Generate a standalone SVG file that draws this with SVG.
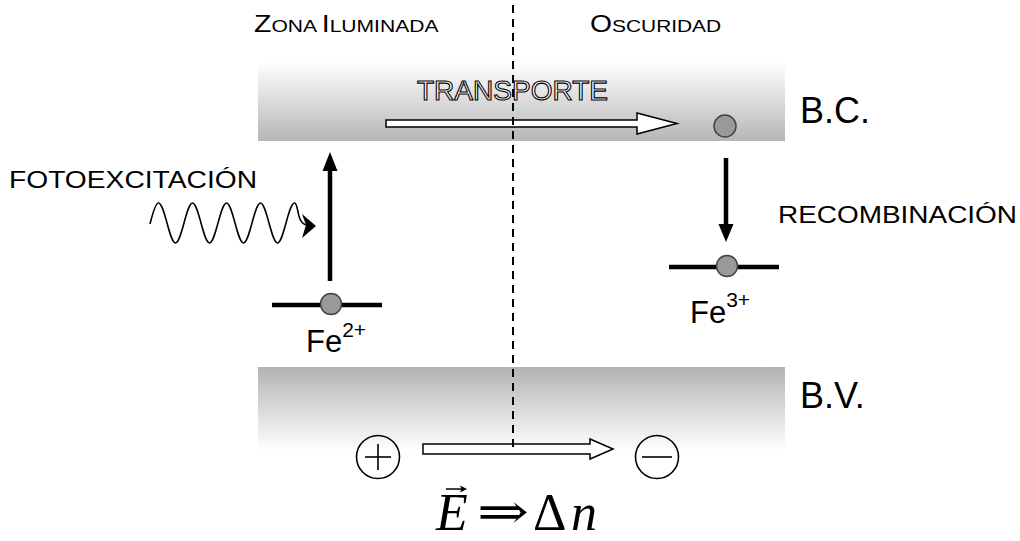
<svg xmlns="http://www.w3.org/2000/svg" width="1020" height="541" viewBox="0 0 1020 541">
  <defs>
    <linearGradient id="gBC" x1="0" y1="0" x2="0" y2="1">
      <stop offset="0" stop-color="#ffffff"/>
      <stop offset="1" stop-color="#b6b6b6"/>
    </linearGradient>
    <linearGradient id="gBV" x1="0" y1="0" x2="0" y2="1">
      <stop offset="0" stop-color="#b3b3b3"/>
      <stop offset="1" stop-color="#ffffff"/>
    </linearGradient>
    <style>
      .sans{font-family:"Liberation Sans",Arial,sans-serif;fill:#000}
      .lvl{stroke:#000;stroke-width:4.5;fill:none}
      .elec{fill:#999999;stroke:#444;stroke-width:1.5}
      .vert{stroke:#000;stroke-width:4.5;fill:none}
      .hollow{fill:#fff;stroke:#000;stroke-width:1.5;stroke-linejoin:miter}
      .sign{fill:none;stroke:#000;stroke-width:1.6}
      .serif{font-family:"Liberation Serif","Times New Roman",serif;fill:#000}
    </style>
  </defs>
  <rect width="1020" height="541" fill="#fff"/>

  <g id="banda-conduccion">
    <rect x="258" y="62" width="527" height="79" fill="url(#gBC)"/>
    <text class="sans" x="800" y="123" font-size="36">B.C.</text>
  </g>
  <g id="banda-valencia">
    <rect x="258" y="367" width="527" height="84" fill="url(#gBV)"/>
    <text class="sans" x="800" y="408" font-size="36">B.V.</text>
  </g>

  <g id="cabecera">
    <text class="sans" transform="translate(254,32) scale(1.24,1)" font-size="23">Z<tspan font-size="17">ONA </tspan>I<tspan font-size="17">LUMINADA</tspan></text>
    <text class="sans" transform="translate(590,32) scale(1.23,1)" font-size="23">O<tspan font-size="17">SCURIDAD</tspan></text>
  </g>

  <g id="transporte">
    <text x="417" y="100" font-family="'Liberation Sans',Arial,sans-serif" font-size="28" fill="#fff" stroke="#000" stroke-width="1.1" textLength="191" lengthAdjust="spacingAndGlyphs">TRANSPORTE</text>
    <polygon class="hollow" points="386,120 637,120 637,113 677,123.5 637,134 637,127 386,127"/>
    <circle class="elec" cx="725" cy="126" r="11"/>
  </g>

  <g id="fe2">
    <line class="lvl" x1="272" y1="305" x2="382" y2="305"/>
    <circle class="elec" cx="331" cy="304" r="10.5"/>
    <text class="sans" x="306" y="352" font-size="31">Fe<tspan font-size="21" dy="-15">2+</tspan></text>
  </g>

  <g id="fe3">
    <line class="lvl" x1="669" y1="267" x2="779" y2="267"/>
    <circle class="elec" cx="727" cy="266" r="10.5"/>
    <text class="sans" x="690" y="323" font-size="31">Fe<tspan font-size="21" dy="-16">3+</tspan></text>
  </g>

  <g id="fotoexcitacion">
    <text class="sans" x="9" y="188" font-size="24" textLength="248" lengthAdjust="spacingAndGlyphs">FOTOEXCITACIÓN</text>
    <path d="M150,224 C152.5,214 155.5,203 158.5,203 C164.6,203 169.4,243 175.5,243 C181.6,243 186.4,203 192.5,203 C198.6,203 203.4,243 209.5,243 C215.6,243 220.4,203 226.5,203 C232.6,203 237.4,243 243.5,243 C249.6,243 254.4,203 260.5,203 C266.6,203 271.4,243 277.5,243 C283.6,243 288.4,203 294.5,203 C299,203 296,224 307,225" fill="none" stroke="#000" stroke-width="1.6"/>
    <polygon points="316,226 302,214 306,225 302,238" fill="#000"/>
  </g>

  <g id="recombinacion">
    <text class="sans" x="778" y="223" font-size="24" textLength="239" lengthAdjust="spacingAndGlyphs">RECOMBINACIÓN</text>
  </g>

  <g id="cargas">
    <circle class="sign" cx="378" cy="457" r="21.5"/>
    <line class="sign" x1="365" y1="457" x2="391" y2="457"/>
    <line class="sign" x1="378" y1="444" x2="378" y2="470"/>
    <circle class="sign" cx="657" cy="457" r="21.5"/>
    <line class="sign" x1="642" y1="457" x2="672" y2="457"/>
  </g>

  <g id="conectores">
    <line class="vert" x1="330" y1="281" x2="330" y2="166"/>
    <polygon points="330,152 322.5,171 337.5,171" fill="#000"/>
    <line class="vert" x1="726" y1="158" x2="726" y2="228"/>
    <polygon points="726,242 718.5,224 733.5,224" fill="#000"/>
    <polygon class="hollow" points="423,444 590,444 590,439 613,449 590,459 590,454 423,454"/>
  </g>

  <g id="separador">
    <line x1="513" y1="5" x2="513" y2="447" stroke="#000" stroke-width="2" stroke-dasharray="8,6"/>
  </g>

  <g id="formula">
    <text class="serif" x="436" y="530" font-size="52" font-style="italic">E</text>
    <line x1="446" y1="489" x2="464" y2="489" stroke="#000" stroke-width="1.5"/>
    <polygon points="467,489 460,485.5 461.5,489 460,492.5" fill="#000"/>
    <text x="477" y="528" font-family="'DejaVu Serif','Liberation Serif',serif" font-size="48" textLength="52" lengthAdjust="spacingAndGlyphs">⇒</text>
    <text class="serif" x="533" y="530" font-size="52">Δ</text>
    <text class="serif" x="571" y="530" font-size="52" font-style="italic">n</text>
  </g>
</svg>
